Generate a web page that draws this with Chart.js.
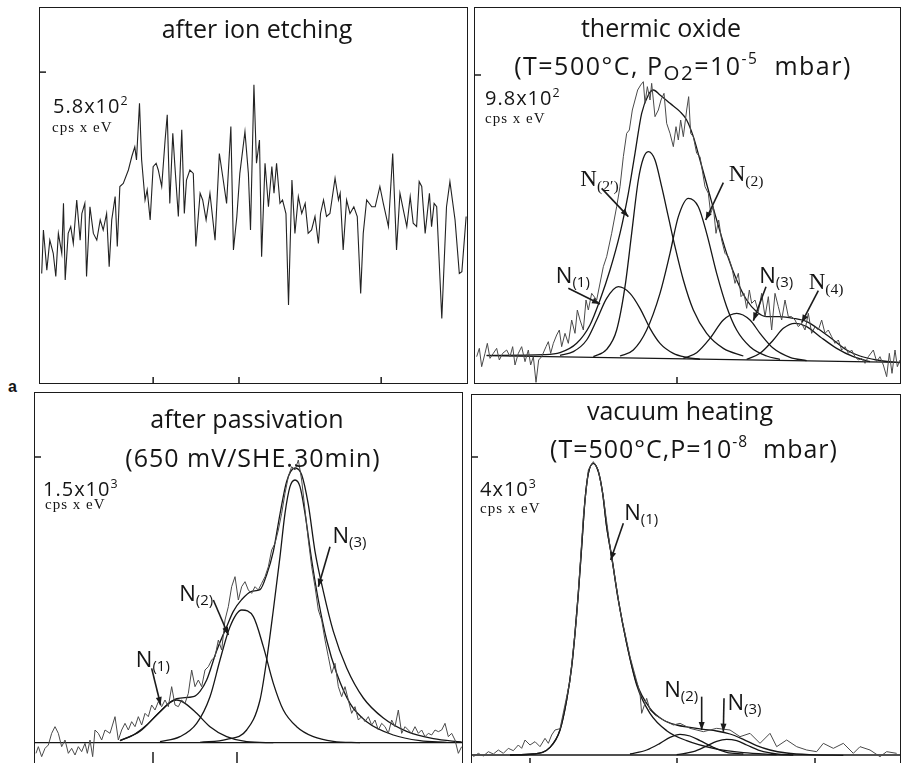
<!DOCTYPE html>
<html>
<head>
<meta charset="utf-8">
<script src="https://cdn.jsdelivr.net/npm/chart.js@4.4.0/dist/chart.umd.min.js"></script>
<style>
  html, body { margin: 0; padding: 0; background: #fff; }
  body { width: 901px; height: 763px; position: relative; overflow: hidden; font-family: "Open Sans", sans-serif; color: #151515; }
  .panel { position: absolute; border: 1.5px solid #1b1b1b; box-sizing: content-box; }
  .panel canvas { display: block; }
  .t { position: absolute; white-space: nowrap; transform: translate(-50%, -50%); font-size: 25px; line-height: 1; }
  .t.l2 { letter-spacing: 1px; }
  .v { position: absolute; white-space: nowrap; transform: translateY(-50%); font-size: 20px; letter-spacing: 1px; line-height: 1; }
  .u { position: absolute; white-space: nowrap; transform: translateY(-50%); font-family: "Liberation Serif", serif; font-size: 15px; letter-spacing: 1px; line-height: 1; }
  .n { position: absolute; white-space: nowrap; transform: translate(-50%, -50%); font-size: 22px; line-height: 1; }
  .n.serif { font-family: "Liberation Serif", serif; font-size: 23px; }
  .n sub { font-size: 68%; vertical-align: -0.3em; }
  sup { font-size: 62%; vertical-align: 0.65em; line-height: 0; }
  .t sub { font-size: 82%; vertical-align: -0.25em; line-height: 0; }
  #a { position: absolute; left: 8px; top: 378px; font-family: "Liberation Sans", sans-serif; font-weight: bold; font-size: 16px; }
</style>
</head>
<body>

<div class="panel" style="left:38.5px;top:6.5px;width:427px;height:375px"><canvas id="tl"></canvas></div>
<div class="panel" style="left:473.5px;top:6.5px;width:425px;height:375px"><canvas id="tr"></canvas></div>
<div class="panel" style="left:33.5px;top:391.5px;width:427px;height:375px"><canvas id="bl"></canvas></div>
<div class="panel" style="left:470.5px;top:393.5px;width:428px;height:373px"><canvas id="br"></canvas></div>

<div class="t" style="left:257px;top:28px">after ion etching</div>
<div class="t" style="left:661px;top:27px">thermic oxide</div>
<div class="t l2" style="left:683px;top:65px;letter-spacing:1.5px">(T=500°C, P<sub>O2</sub>=10<sup>-5</sup>&nbsp; mbar)</div>
<div class="t" style="left:247px;top:418px">after passivation</div>
<div class="t l2" style="left:253px;top:457px">(650 mV/SHE.30min)</div>
<div class="t" style="left:680px;top:410px">vacuum heating</div>
<div class="t l2" style="left:694px;top:448px">(T=500°C,P=10<sup>-8</sup>&nbsp; mbar)</div>

<div class="v" style="left:53px;top:106px">5.8x10<sup>2</sup></div>
<div class="u" style="left:52px;top:127px">cps x eV</div>
<div class="v" style="left:485px;top:98px">9.8x10<sup>2</sup></div>
<div class="u" style="left:485px;top:118px">cps x eV</div>
<div class="v" style="left:43px;top:489px">1.5x10<sup>3</sup></div>
<div class="u" style="left:45px;top:504px">cps x eV</div>
<div class="v" style="left:480px;top:489px">4x10<sup>3</sup></div>
<div class="u" style="left:480px;top:508px">cps x eV</div>
<div id="a">a</div>

<script>
// ---- after ion etching (x: % of scan, y: % of panel height) ----
const tlRaw = [[0.4,29.2],[0.8,40.8],[1.6,30.1],[2.3,38.1],[3.1,34.6],[3.7,28.4],[4.3,39.9],[5.1,34.6],[5.5,47.9],[5.9,27.5],[6.6,39.9],[7.2,41.7],[7.8,37.2],[8.6,48.8],[9.4,38.1],[9.8,45.2],[10.5,47.9],[10.9,28.4],[11.7,47.0],[12.5,39.9],[13.3,38.1],[14.1,43.5],[14.8,40.8],[15.6,45.2],[16.2,31.0],[16.8,43.5],[17.6,49.7],[18.1,36.4],[18.7,52.4],[19.5,53.2],[20.7,56.8],[21.5,60.4],[22.2,63.0],[22.6,59.5],[23.3,74.6],[23.8,59.5],[24.6,48.8],[25.1,51.5],[25.8,43.5],[26.5,57.7],[27.2,58.6],[27.7,56.8],[28.5,52.4],[29.3,64.8],[29.8,71.5],[30.4,47.9],[31.1,66.6],[31.6,57.7],[32.4,44.4],[33.2,67.5],[33.8,45.2],[34.3,54.1],[35.1,56.8],[35.9,55.9],[36.5,36.4],[37.5,50.6],[38.1,48.8],[38.9,43.5],[39.8,50.6],[41.0,38.1],[42.0,61.2],[42.8,55.0],[43.7,47.9],[44.7,68.4],[45.3,35.5],[46.1,44.4],[46.8,55.9],[48.0,67.0],[48.8,55.9],[49.3,40.8],[50.1,79.5],[50.7,58.6],[51.4,64.8],[51.9,33.7],[52.7,58.6],[53.5,47.0],[54.3,57.7],[54.8,50.6],[55.4,58.6],[56.2,47.9],[56.8,48.8],[57.6,45.2],[58.2,20.8],[59.0,54.1],[59.7,39.9],[60.5,49.7],[61.3,45.2],[62.1,47.9],[62.8,39.9],[63.6,40.8],[64.4,44.4],[65.2,37.2],[65.7,45.2],[66.4,48.8],[67.1,44.4],[67.9,45.2],[69.1,54.6],[69.9,48.8],[70.3,50.6],[71.0,35.5],[71.8,48.8],[72.6,45.2],[73.5,47.0],[74.3,44.4],[75.1,23.9],[75.7,39.9],[76.5,48.8],[77.7,47.0],[78.5,47.0],[79.6,52.4],[80.4,47.9],[81.6,41.7],[82.6,61.2],[83.5,35.5],[84.3,50.6],[85.1,46.1],[85.9,41.7],[86.7,49.7],[87.4,42.6],[88.2,41.7],[88.8,53.7],[89.4,52.4],[90.2,39.9],[91.2,50.6],[91.7,41.7],[92.3,47.9],[92.9,47.0],[94.1,17.2],[95.2,47.0],[96.0,53.7],[97.2,43.5],[98.2,29.2],[98.8,29.7],[99.8,44.4]];
const tlLeftTicks = [82.9];
const tlBottomTicks = [26.5, 46.6, 79.9];

// ---- thermic oxide (x: channel, y: counts, arbitrary) ----
const trRaw = [[5,79],[13,104],[20,49],[30,89],[37,119],[45,74],[55,89],[65,104],[73,69],[83,89],[95,99],[105,79],[113,109],[120,54],[130,89],[140,109],[150,64],[160,99],[167,54],[175,79],[183,2],[191,69],[200,79],[213,109],[220,124],[227,89],[235,119],[245,144],[253,159],[260,109],[270,149],[280,119],[290,189],[300,149],[307,219],[315,189],[325,159],[333,249],[340,219],[350,269],[365,249],[385,349],[395,379],[410,449],[425,529],[435,589],[445,679],[455,749],[463,759],[472,819],[480,849],[488,879],[497,894],[505,904],[510,839],[517,889],[525,849],[530,899],[540,799],[550,819],[558,849],[567,869],[575,779],[585,749],[595,709],[603,769],[610,729],[617,789],[625,739],[635,819],[641,859],[647,749],[655,739],[665,689],[675,679],[690,589],[700,569],[707,509],[715,529],[723,449],[731,489],[740,429],[750,389],[760,379],[770,349],[780,299],[790,329],[798,259],[807,269],[815,224],[823,279],[830,239],[840,249],[850,214],[860,269],[870,199],[880,259],[890,159],[900,269],[910,229],[920,189],[930,249],[940,199],[950,199],[960,189],[970,169],[980,179],[990,159],[1000,209],[1010,149],[1020,169],[1030,159],[1040,189],[1050,149],[1060,159],[1070,139],[1080,119],[1090,129],[1100,99],[1110,109],[1120,89],[1130,99],[1140,79],[1150,69],[1160,74],[1170,59],[1180,79],[1195,99],[1205,64],[1215,79],[1225,54],[1235,19],[1243,89],[1251,29],[1260,99],[1267,49],[1275,69]];
const trBaseline = [[35,82],[1275,62]];
const trN1 = [[255,83],[295,94],[335,129],[365,189],[395,254],[430,289],[465,269],[495,224],[525,164],[555,119],[595,89],[635,77],[675,71]];
const trN2p = [[355,79],[395,101],[425,159],[450,289],[470,449],[490,609],[505,674],[520,694],[540,669],[560,589],[580,499],[600,409],[625,309],[655,219],[695,149],[745,104],[805,81]];
const trN2 = [[435,81],[475,99],[515,159],[555,269],[585,389],[610,499],[640,554],[670,529],[695,449],[725,329],[755,229],[785,159],[825,109],[875,81],[915,71]];
const trN3 = [[625,74],[665,91],[705,134],[745,189],[785,209],[825,189],[855,149],[895,104],[945,77],[995,67]];
const trN4 = [[815,71],[855,89],[895,129],[925,164],[960,179],[995,169],[1035,139],[1085,104],[1135,79],[1185,64]];
const trFit = [[35,83],[205,85],[255,91],[305,119],[345,174],[375,249],[405,339],[435,449],[460,569],[480,689],[500,809],[520,864],[535,879],[555,864],[585,839],[615,814],[635,789],[655,739],[675,669],[700,579],[725,489],[755,389],[785,309],[815,249],[845,214],[875,199],[915,199],[955,194],[995,184],[1035,159],[1075,129],[1115,99],[1155,81],[1205,69],[1275,61]];
const trLeftTicks = [924];
const trBottomTicks = [606];
const trNotes = [
  { name: 'N', sub: '(2\u2032)', serif: true, at: [375, 609], from: [380, 584], to: [460, 499] },
  { name: 'N', sub: '(2)', serif: true, at: [815, 624], from: [745, 601], to: [692, 489] },
  { name: 'N', sub: '(1)', serif: false, at: [295, 319], from: [280, 284], to: [375, 237] },
  { name: 'N', sub: '(3)', serif: false, at: [905, 319], from: [873, 289], to: [835, 187] },
  { name: 'N', sub: '(4)', serif: true, at: [1055, 299], from: [1030, 277], to: [980, 181] }
];

// ---- after passivation ----
const blRaw = [[3,44],[10,64],[20,34],[30,59],[40,69],[50,104],[60,124],[70,104],[80,64],[90,84],[100,44],[110,59],[120,39],[130,64],[140,49],[150,74],[157,44],[165,84],[173,34],[180,114],[190,104],[200,84],[210,114],[225,104],[240,154],[250,84],[260,114],[270,134],[280,114],[290,139],[300,124],[310,154],[320,129],[330,164],[340,154],[350,189],[360,174],[370,199],[380,184],[390,204],[400,184],[410,244],[420,189],[430,184],[440,204],[450,194],[460,224],[470,294],[480,244],[490,264],[500,244],[510,294],[520,304],[530,324],[540,334],[550,384],[560,354],[570,444],[580,484],[590,544],[600,574],[610,504],[620,544],[630,559],[640,534],[650,524],[660,544],[670,534],[680,554],[690,574],[700,604],[710,654],[720,674],[730,714],[740,764],[750,824],[760,874],[770,904],[780,894],[790,924],[800,864],[810,774],[820,684],[830,604],[840,544],[850,474],[860,444],[870,384],[880,334],[890,284],[900,314],[910,244],[920,214],[930,244],[940,204],[950,164],[960,184],[970,144],[980,154],[990,139],[1000,154],[1010,129],[1020,144],[1030,114],[1040,134],[1050,124],[1060,104],[1070,144],[1080,124],[1090,174],[1100,104],[1110,124],[1120,114],[1130,104],[1140,124],[1150,104],[1160,114],[1170,94],[1180,104],[1190,99],[1200,114],[1210,109],[1220,114],[1230,134],[1240,94],[1250,104],[1260,84],[1270,44],[1280,64]];
const blBaseline = [[0,76],[1281,76]];
const blN1 = [[255,82],[295,99],[335,129],[375,169],[405,197],[425,204],[450,194],[485,164],[525,124],[575,94],[635,79],[715,76]];
const blN2 = [[375,79],[435,94],[485,134],[525,214],[555,324],[585,424],[620,474],[655,454],[685,364],[715,254],[745,174],[785,124],[835,94],[895,80],[975,76]];
const blN3 = [[495,77],[575,86],[635,114],[675,204],[695,324],[715,474],[735,634],[750,764],[765,844],[780,864],[795,844],[810,764],[830,624],[850,504],[875,384],[905,284],[945,194],[995,139],[1075,99],[1155,82],[1235,77]];
const blFit = [[255,82],[315,110],[375,169],[425,208],[475,214],[495,230],[515,264],[545,352],[575,424],[595,470],[620,505],[650,530],[675,535],[695,580],[715,650],[735,762],[755,860],[780,900],[800,880],[820,790],[840,650],[865,530],[895,410],[935,300],[985,210],[1045,150],[1115,110],[1195,88],[1280,78]];
const blLeftTicks = [933];
const blBottomTicks = [354, 606];
const blNotes = [
  { name: 'N', sub: '(1)', serif: false, at: [355, 324], from: [350, 299], to: [377, 189] },
  { name: 'N', sub: '(2)', serif: false, at: [485, 522], from: [535, 504], to: [580, 399] },
  { name: 'N', sub: '(3)', serif: false, at: [945, 694], from: [885, 664], to: [850, 544] }
];

// ---- vacuum heating ----
const brRaw = [[4,34],[19,44],[34,36],[49,49],[64,42],[79,54],[94,44],[109,59],[124,52],[139,69],[149,59],[159,84],[174,69],[189,79],[204,64],[219,89],[229,74],[239,99],[249,114],[264,118],[294,262],[314,454],[334,754],[349,894],[364,919],[379,894],[394,814],[414,664],[444,474],[474,334],[504,224],[509,164],[524,209],[534,174],[549,159],[574,144],[604,129],[624,134],[654,119],[694,109],[734,119],[774,114],[804,94],[834,104],[864,74],[894,104],[914,64],[944,84],[974,64],[1004,54],[1034,49],[1054,74],[1084,59],[1114,74],[1144,44],[1164,64],[1194,54],[1224,34],[1244,49],[1274,44]];
const brBaseline = [[0,39],[1284,39]];
const brN1 = [[114,39],[184,42],[234,62],[264,114],[284,204],[299,304],[309,404],[319,524],[329,664],[339,804],[349,884],[364,914],[379,889],[392,824],[404,724],[419,634],[439,504],[464,374],[494,249],[534,164],[584,112],[644,82],[724,59],[814,46],[914,40]];
const brN2 = [[474,42],[524,54],[564,74],[594,92],[624,101],[654,96],[684,82],[724,62],[764,47],[814,42]];
const brN3 = [[614,40],[664,49],[704,66],[734,80],[764,86],[794,82],[824,69],[864,52],[914,42],[964,39]];
const brFit = [[114,39],[184,42],[234,62],[264,114],[284,204],[299,304],[309,404],[319,524],[329,664],[339,804],[349,884],[364,914],[379,889],[392,824],[404,724],[419,634],[439,504],[464,374],[494,254],[534,179],[574,144],[614,129],[654,122],[694,116],[734,111],[774,102],[814,86],[854,67],[894,54],[944,45],[1014,40],[1114,38]];
const brLeftTicks = [933];
const brBottomTicks = [174, 615, 1029];
const brNotes = [
  { name: 'N', sub: '(1)', serif: false, at: [509, 764], from: [454, 734], to: [416, 624] },
  { name: 'N', sub: '(2)', serif: false, at: [629, 234], from: [689, 214], to: [689, 114] },
  { name: 'N', sub: '(3)', serif: false, at: [819, 194], from: [756, 209], to: [754, 109] }
];

// tick marks, arrows and the N labels, all placed through the chart scales
const panelDecor = {
  id: 'panelDecor',
  afterDatasetsDraw(chart, args, opts) {
    const { ctx, chartArea: a, scales: { x, y } } = chart;
    ctx.save();
    ctx.strokeStyle = '#1b1b1b';
    ctx.fillStyle = '#1b1b1b';
    ctx.lineWidth = 1.5;
    (opts.leftTicks || []).forEach(v => {
      const py = y.getPixelForValue(v);
      ctx.beginPath(); ctx.moveTo(a.left, py); ctx.lineTo(a.left + 6, py); ctx.stroke();
    });
    (opts.bottomTicks || []).forEach(v => {
      const px = x.getPixelForValue(v);
      ctx.beginPath(); ctx.moveTo(px, a.bottom); ctx.lineTo(px, a.bottom - (opts.tickLen || 6)); ctx.stroke();
    });
    (opts.notes || []).forEach(n => {
      const x1 = x.getPixelForValue(n.from[0]), y1 = y.getPixelForValue(n.from[1]);
      const x2 = x.getPixelForValue(n.to[0]), y2 = y.getPixelForValue(n.to[1]);
      ctx.lineWidth = 1.6;
      ctx.beginPath(); ctx.moveTo(x1, y1); ctx.lineTo(x2, y2); ctx.stroke();
      const ang = Math.atan2(y2 - y1, x2 - x1), L = 8, W = 3;
      ctx.beginPath();
      ctx.moveTo(x2, y2);
      ctx.lineTo(x2 - L * Math.cos(ang) + W * Math.sin(ang), y2 - L * Math.sin(ang) - W * Math.cos(ang));
      ctx.lineTo(x2 - L * Math.cos(ang) - W * Math.sin(ang), y2 - L * Math.sin(ang) + W * Math.cos(ang));
      ctx.closePath(); ctx.fill();

      if (!n.el) {
        n.el = document.createElement('div');
        n.el.className = 'n' + (n.serif ? ' serif' : '');
        n.el.innerHTML = n.name + '<sub>' + n.sub + '</sub>';
        chart.canvas.parentNode.appendChild(n.el);
      }
      n.el.style.left = x.getPixelForValue(n.at[0]) + 'px';
      n.el.style.top = y.getPixelForValue(n.at[1]) + 'px';
    });
    ctx.restore();
  }
};

function series(points, opts) {
  return Object.assign({
    data: points.map(p => ({ x: p[0], y: p[1] })),
    borderColor: '#161616',
    borderWidth: 1.3,
    pointRadius: 0,
    fill: false,
    cubicInterpolationMode: 'monotone'
  }, opts || {});
}
const rawStyle = { borderColor: '#4a4a4a', borderWidth: 1, cubicInterpolationMode: 'default', tension: 0 };

function makePanel(id, datasets, xMax, yMax, decor) {
  return new Chart(document.getElementById(id), {
    type: 'line',
    data: { datasets },
    options: {
      responsive: true,
      maintainAspectRatio: false,
      animation: false,
      devicePixelRatio: 1,
      layout: { padding: 0 },
      plugins: { legend: { display: false }, tooltip: { enabled: false }, panelDecor: decor },
      scales: {
        x: { type: 'linear', min: 0, max: xMax, display: false },
        y: { type: 'linear', min: 0, max: yMax, display: false }
      }
    },
    plugins: [panelDecor]
  });
}

makePanel('tl', [series(tlRaw, { borderColor: '#222', borderWidth: 1.1, cubicInterpolationMode: 'default', tension: 0 })],
  100, 100, { leftTicks: tlLeftTicks, bottomTicks: tlBottomTicks, tickLen: 6 });

makePanel('tr', [
  series(trRaw, rawStyle),
  series(trBaseline, { cubicInterpolationMode: 'default' }),
  series(trN1), series(trN2p), series(trN2), series(trN3), series(trN4),
  series(trFit)
], 1275, 1125, { leftTicks: trLeftTicks, bottomTicks: trBottomTicks, tickLen: 6, notes: trNotes });

makePanel('bl', [
  series(blRaw, rawStyle),
  series(blBaseline, { cubicInterpolationMode: 'default' }),
  series(blN1), series(blN2), series(blN3),
  series(blFit)
], 1281, 1125, { leftTicks: blLeftTicks, bottomTicks: blBottomTicks, tickLen: 16, notes: blNotes });

makePanel('br', [
  series(brRaw, rawStyle),
  series(brBaseline, { cubicInterpolationMode: 'default' }),
  series(brN1), series(brN2), series(brN3),
  series(brFit)
], 1284, 1119, { leftTicks: brLeftTicks, bottomTicks: brBottomTicks, tickLen: 10, notes: brNotes });
</script>
</body>
</html>
